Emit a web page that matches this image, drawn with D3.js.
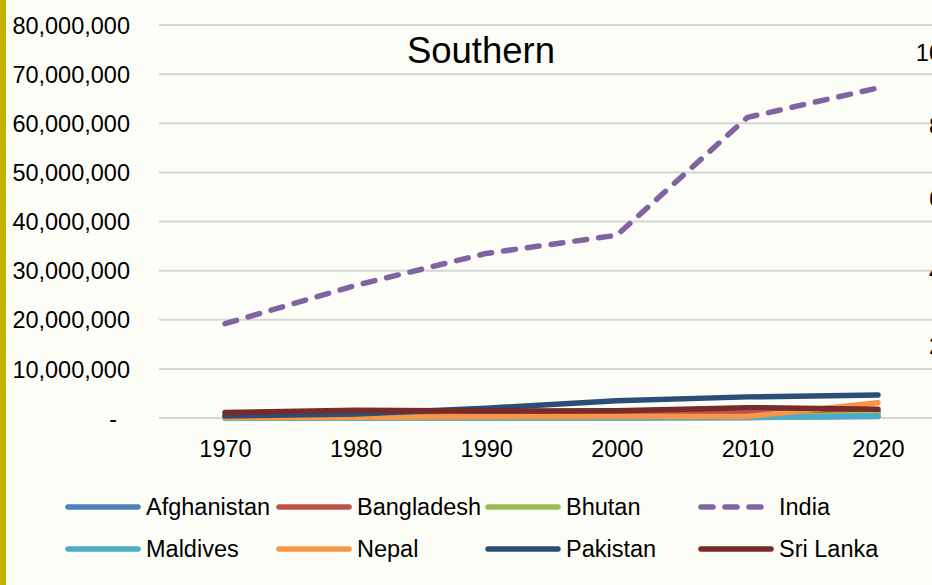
<!DOCTYPE html>
<html>

<head>
    <meta charset="utf-8">
    <title>Southern</title>
    <style>
        body { margin: 0; background: #fdfdf8; }
        svg { display: block; font-family: "Liberation Sans", Arial, sans-serif; }
    </style>
</head>

<body>
    <svg id="southern_chart"></svg>
</body>
<script src="https://cdn.jsdelivr.net/npm/d3@7"></script>
<script>

    // data
    const years = ["1970", "1980", "1990", "2000", "2010", "2020"];
    const countries = ["Afghanistan", "Bangladesh", "Bhutan", "India", "Maldives", "Nepal", "Pakistan", "Sri Lanka"];
    const afghanistan = [50000, 60000, 80000, 100000, 150000, 300000];
    const bangladesh = [300000, 400000, 500000, 800000, 1000000, 1300000];
    const bhutan = [10000, 20000, 30000, 50000, 100000, 800000];
    const india = [19200000, 27000000, 33500000, 37200000, 61200000, 67200000];
    const maldives = [5000, 5000, 10000, 20000, 50000, 400000];
    const nepal = [100000, 150000, 250000, 300000, 300000, 3100000];
    const pakistan = [400000, 800000, 2000000, 3500000, 4300000, 4700000];
    const sriLanka = [1100000, 1600000, 1400000, 1500000, 2100000, 1800000];
    const yTicks = [0, 10000000, 20000000, 30000000, 40000000, 50000000, 60000000, 70000000, 80000000];
    // the axis of the chart behind, cut off at the right edge (as in the original)
    const rightTicks = [2, 4, 6, 8, 10];

    const seriesValues = [afghanistan, bangladesh, bhutan, india, maldives, nepal, pakistan, sriLanka];
    const colors = ["#4f81bd", "#c0504d", "#9bbb59", "#8064a2", "#4bacc6", "#f79646", "#2c4d75", "#772c2a"];

    const width = 932,
        height = 585;
    const plot = { left: 159, right: 932, top: 25, bottom: 418 };

    const svg = d3.select("#southern_chart")
        .attr("width", width)
        .attr("height", height);

    svg.append("rect")
        .attr("width", width)
        .attr("height", height)
        .attr("fill", "#fdfdf8");

    // gold strip on the left
    svg.append("rect")
        .attr("x", 0)
        .attr("y", 0)
        .attr("width", 6)
        .attr("height", height)
        .attr("fill", "#c4b300");

    let x = d3.scalePoint()
        .domain(years)
        .range([225, 878]);
    let y = d3.scaleLinear()
        .domain([0, 80000000])
        .range([plot.bottom, plot.top]);
    let yRight = d3.scaleLinear()
        .domain([0, 10])
        .range([plot.bottom, 52]);

    // grid
    svg.append("g")
        .attr("class", "grid")
        .selectAll("line")
        .data(yTicks)
        .join("line")
        .attr("x1", plot.left)
        .attr("x2", plot.right)
        .attr("y1", d => y(d))
        .attr("y2", d => y(d))
        .attr("stroke", "#d6d6d6")
        .attr("stroke-width", 2);

    // left axis
    const gy = svg.append("g")
        .attr("transform", "translate(138,0)")
        .call(d3.axisLeft(y).tickValues(yTicks).tickSize(0).tickPadding(8)
            .tickFormat(d => d === 0 ? "-" : d3.format(",")(d)));
    gy.select(".domain").remove();
    gy.selectAll("text")
        .attr("font-size", "23.5px")
        .attr("font-family", "Liberation Sans, Arial, sans-serif")
        .attr("fill", "#000")
        .attr("dy", "0.35em")
        .filter(d => d === 0)
        .attr("x", -21);

    // bottom axis (labels only)
    const gx = svg.append("g")
        .attr("transform", `translate(0,${plot.bottom})`)
        .call(d3.axisBottom(x).tickSize(0).tickPadding(0));
    gx.select(".domain").remove();
    gx.selectAll("text")
        .attr("font-size", "23.5px")
        .attr("font-family", "Liberation Sans, Arial, sans-serif")
        .attr("fill", "#000")
        .attr("dy", null)
        .attr("y", 39);

    // right axis labels of the hidden chart
    const gr = svg.append("g")
        .attr("transform", "translate(942,0)")
        .call(d3.axisRight(yRight).tickValues(rightTicks).tickSize(0).tickPadding(0));
    gr.select(".domain").remove();
    gr.selectAll("text")
        .attr("font-size", "23.5px")
        .attr("font-family", "Liberation Sans, Arial, sans-serif")
        .attr("fill", "#000")
        .attr("text-anchor", "end")
        .attr("dy", "0.35em");

    // title
    svg.append("text")
        .attr("x", 481)
        .attr("y", 63)
        .attr("text-anchor", "middle")
        .attr("font-size", "36.5px")
        .attr("fill", "#000")
        .text("Southern");

    const line = d3.line()
        .x((d, i) => x(years[i]))
        .y(d => y(d));

    svg.append("g")
        .attr("class", "series")
        .selectAll("path")
        .data(seriesValues)
        .join("path")
        .attr("d", d => line(d))
        .attr("fill", "none")
        .attr("stroke", (d, i) => colors[i])
        .attr("stroke-width", 5.5)
        .attr("stroke-linecap", "round")
        .attr("stroke-linejoin", "round")
        .attr("stroke-dasharray", (d, i) => countries[i] === "India" ? "12,12" : null);

    //#region legend
    const legendX = [68, 279, 488, 701];
    const legendY = [507, 549];
    const legend = svg.append("g")
        .attr("class", "legend")
        .selectAll("g")
        .data(countries)
        .join("g")
        .attr("transform", (d, i) => `translate(${legendX[i % 4]},${legendY[Math.floor(i / 4)]})`);

    legend.append("line")
        .attr("x1", 0)
        .attr("x2", 70)
        .attr("stroke", (d, i) => colors[i])
        .attr("stroke-width", 5.5)
        .attr("stroke-linecap", "round")
        .attr("stroke-dasharray", d => d === "India" ? "12,12" : null);

    legend.append("text")
        .attr("x", 78)
        .attr("dy", "0.35em")
        .attr("font-size", "23.5px")
        .attr("fill", "#000")
        .text(d => d);
    //#endregion legend

</script>

</html>
